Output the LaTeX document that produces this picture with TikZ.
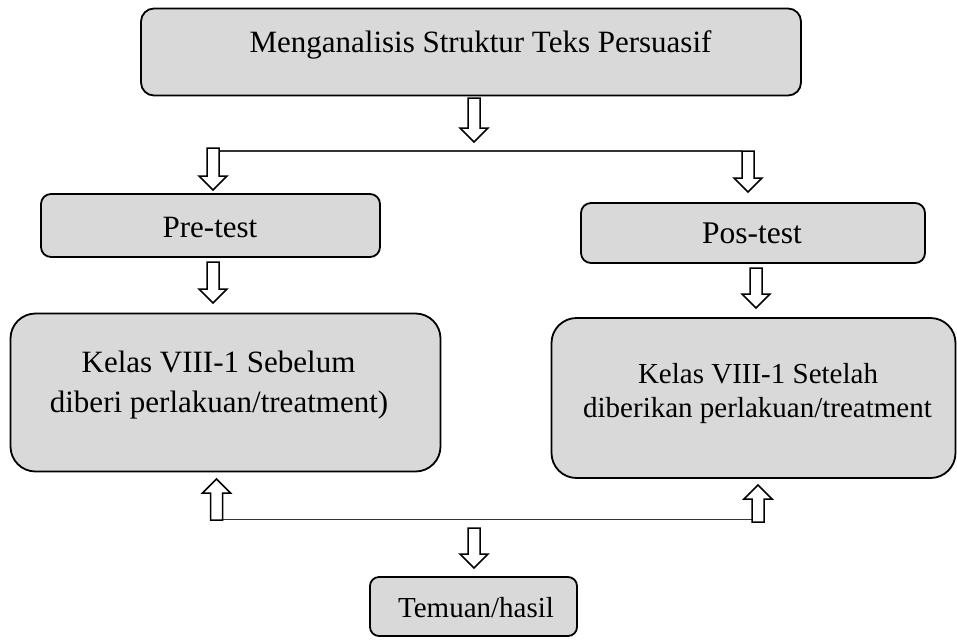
\documentclass[tikz,border=0pt]{standalone}
\usepackage{fontspec}
\setmainfont{Liberation Serif}
\definecolor{boxgray}{HTML}{D9D9D9}
\newcommand\hdown[3]{\draw[harrow] (#1-6,#2) -- (#1+6,#2) -- (#1+6,#3-14) -- (#1+14,#3-14) -- (#1,#3) -- (#1-14,#3-14) -- (#1-6,#3-14) -- cycle;}
\newcommand\hup[3]{\draw[harrow] (#1-6,#3) -- (#1-6,#2+14) -- (#1-14,#2+14) -- (#1,#2) -- (#1+14,#2+14) -- (#1+6,#2+14) -- (#1+6,#3) -- cycle;}
\begin{document}
\begin{tikzpicture}[x=1pt,y=-1pt,
  boxnode/.style={draw=black, line width=1.8pt, fill=boxgray, inner sep=0pt},
  harrow/.style={draw=black, line width=1.5pt, fill=white, line join=miter},
  link/.style={draw=black!80, line width=1.3pt},
  lbl/.style={anchor=base, inner sep=0pt, font=\fontsize{31}{38}\selectfont}]
\useasboundingbox (0,0) rectangle (957,641);
% boxes
\node[boxnode, rounded corners=13pt, minimum width=660pt, minimum height=87pt] (top) at (471,52) {};
\node[boxnode, rounded corners=10pt, minimum width=339pt, minimum height=63pt] (pre) at (210.5,225.5) {};
\node[boxnode, rounded corners=10pt, minimum width=344pt, minimum height=60pt] (pos) at (753,233) {};
\node[boxnode, rounded corners=25pt, minimum width=430pt, minimum height=158pt] (kb) at (225.5,392.5) {};
\node[boxnode, rounded corners=25pt, minimum width=404pt, minimum height=160pt] (ks) at (753.5,398) {};
\node[boxnode, rounded corners=9pt, minimum width=207pt, minimum height=59pt] (tem) at (473.5,606.5) {};
% texts
\node[lbl] (ttop) at (480.5,52) {Menganalisis Struktur Teks Persuasif};
\node[lbl] (tpre) at (210,237) {Pre-test};
\node[lbl, font=\fontsize{31.5}{38}\selectfont] (tpos) at (752,243) {Pos-test};
\node[lbl] (tkb1) at (218.5,372) {Kelas VIII-1 Sebelum};
\node[lbl] (tkb2) at (219,412) {diberi perlakuan/treatment)};
\node[lbl, font=\fontsize{29}{34}\selectfont] (tks1) at (758,383) {Kelas VIII-1 Setelah};
\node[lbl, font=\fontsize{29}{34}\selectfont] (tks2) at (757.5,417) {diberikan perlakuan/treatment};
\node[lbl, font=\fontsize{29}{34}\selectfont] (ttem) at (476,617) {Temuan/hasil};
% connectors
\coordinate (l1a) at (219,151);
\coordinate (l1b) at (742,151);
\draw[link] (l1a) -- (l1b);
\coordinate (l2a) at (223,519.5);
\coordinate (l2b) at (752,519.5);
\draw[link] (l2a) -- (l2b);
% hollow arrows
\hdown{474}{98}{142}
\hdown{213}{148}{190}
\hdown{748}{151}{192}
\hdown{213}{262}{303}
\hdown{756}{268}{308}
\hup{216.5}{479}{520}
\hup{758}{485}{522}
\hdown{474}{528}{568}
\end{tikzpicture}
\end{document}
